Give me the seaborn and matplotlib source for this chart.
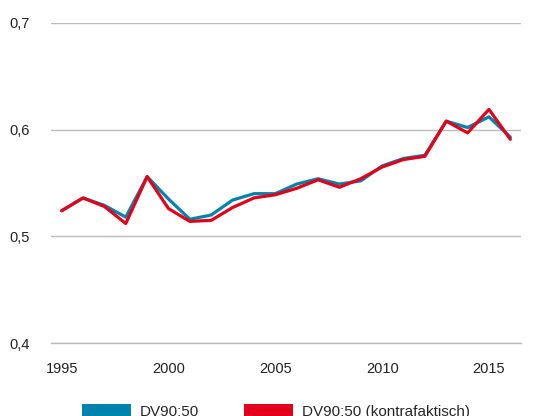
import matplotlib
matplotlib.use("Agg")
import matplotlib.pyplot as plt
import seaborn as sns
import pandas as pd
import numpy as np
from matplotlib.patches import Patch
from matplotlib.ticker import FixedLocator, FuncFormatter

years = list(range(1995, 2017))
dv = [0.524, 0.536, 0.529, 0.518, 0.556, 0.535, 0.516, 0.520, 0.534, 0.540, 0.540,
      0.549, 0.554, 0.549, 0.552, 0.566, 0.573, 0.576, 0.608, 0.602, 0.612, 0.593]
dv_kf = [0.524, 0.536, 0.528, 0.512, 0.556, 0.526, 0.514, 0.515, 0.527, 0.536, 0.539,
         0.545, 0.553, 0.546, 0.554, 0.565, 0.572, 0.575, 0.608, 0.597, 0.619, 0.591]
series_names = ["DV90:50", "DV90:50 (kontrafaktisch)"]
colors = ["#0083AD", "#E2001A"]
yticks = [0.4, 0.5, 0.6, 0.7]
xlabels = [1995, 2000, 2005, 2010, 2015]

df = pd.DataFrame({
    "Jahr": years * 2,
    "Wert": dv + dv_kf,
    "Serie": [series_names[0]] * len(years) + [series_names[1]] * len(years),
})

sns.set_style("white")
plt.rcParams["font.family"] = ["Liberation Sans", "DejaVu Sans"]

fig = plt.figure(figsize=(5.58, 4.16), dpi=100)
ax = fig.add_axes([51 / 558, 1 - 343 / 416, 470 / 558, 320 / 416])

sns.lineplot(data=df, x="Jahr", y="Wert", hue="Serie", palette=colors,
             linewidth=2.3, ax=ax, legend=False)

ax.set_xlim(1994.5, 2016.5)
ax.set_ylim(0.4, 0.7)
ax.set_yticks(yticks)
ax.yaxis.set_major_formatter(FuncFormatter(lambda v, p: f"{v:.1f}".replace(".", ",")))
ax.set_xticks(xlabels)
ax.xaxis.set_minor_locator(FixedLocator([1994.5 + k for k in range(23)]))
ax.tick_params(axis="x", which="major", length=0, pad=14, labelsize=10.5, colors="#222222")
ax.tick_params(axis="x", which="minor", length=5, width=0.8, color="#aaaaaa", direction="out")
ax.tick_params(axis="y", length=0, pad=15, labelsize=10.5, colors="#222222")
ax.set_xlabel("")
ax.set_ylabel("")
for s in ["top", "right", "left"]:
    ax.spines[s].set_visible(False)
ax.spines["bottom"].set_color("#bbbbbb")
ax.spines["bottom"].set_linewidth(1.0)
ax.yaxis.grid(True, color="#bbbbbb", linewidth=1.0)
ax.set_axisbelow(True)

handles = [Patch(facecolor=c, edgecolor="none") for c in colors]
fig.legend(handles, series_names, loc="upper left", bbox_to_anchor=(82 / 558, 1 - 404 / 416),
           ncol=2, frameon=False, fontsize=11, handlelength=3.2, handleheight=1.0,
           handletextpad=0.6, columnspacing=2.9, borderpad=0, borderaxespad=0)

fig.savefig("out.png", dpi=100)
